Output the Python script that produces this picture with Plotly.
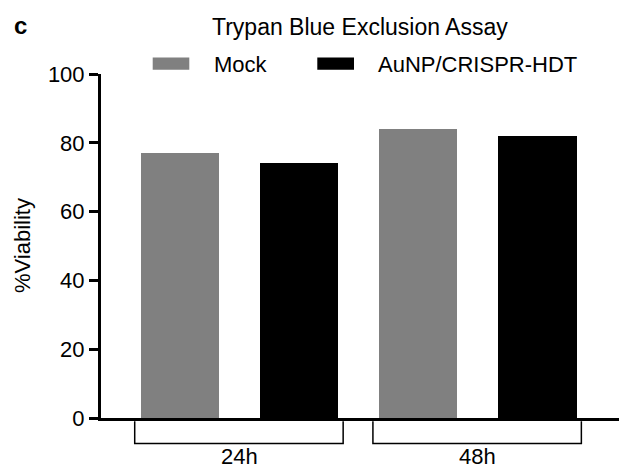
import plotly.graph_objects as go

# ---- data ----
timepoints = ["24h", "48h"]
series_names = ["Mock", "AuNP/CRISPR-HDT"]
mock_values = [77, 84]
hdt_values = [74, 82]
y_ticks = [0, 20, 40, 60, 80, 100]
title_text = "Trypan Blue Exclusion Assay"
y_title = "%Viability"
panel_label = "c"

colors = ["#808080", "#000000"]
FONT = "Liberation Sans, Arial, sans-serif"

W, H = 619, 472
L, R, T, B = 101, 0, 73.5, 53.5
PW, PH = W - L - R, H - T - B


def px(x):
    return (x - L) / PW


def py(y):
    return (H - B - y) / PH


# bar positions: two bars per timepoint
mock_x = [2 * i for i in range(len(timepoints))]
hdt_x = [2 * i + 1 for i in range(len(timepoints))]

fig = go.Figure()
fig.add_bar(x=mock_x, y=mock_values, name=series_names[0], width=0.66,
            marker=dict(color=colors[0], line=dict(width=0)), showlegend=False)
fig.add_bar(x=hdt_x, y=hdt_values, name=series_names[1], width=0.66,
            marker=dict(color=colors[1], line=dict(width=0)), showlegend=False)

shapes = []
annotations = []

# group brackets + labels
for i, tp in enumerate(timepoints):
    x0 = 2 * i - 0.38
    x1 = 2 * i + 1.37
    yt, yb = py(421.7), py(444)
    shapes.append(dict(type="path", xref="x", yref="paper",
                       path=f"M {x0},{yt} L {x0},{yb} L {x1},{yb} L {x1},{yt}",
                       line=dict(color="black", width=1.5)))
    annotations.append(dict(x=2 * i + 0.5, y=py(457.5), xref="x", yref="paper",
                            text=tp, showarrow=False, xanchor="center", yanchor="middle",
                            font=dict(size=22, color="black", family=FONT)))

# manual legend
legend_items = [(152.7, 189.3, 211.7), (317.3, 354.0, 375.7)]
for (sx0, sx1, tx), name, c in zip(legend_items, series_names, colors):
    shapes.append(dict(type="rect", xref="paper", yref="paper",
                       x0=px(sx0), x1=px(sx1), y0=py(69.3), y1=py(57.0),
                       fillcolor=c, line=dict(width=0)))
    annotations.append(dict(x=px(tx), y=py(64), xref="paper", yref="paper",
                            text=name, showarrow=False, xanchor="left", yanchor="middle",
                            font=dict(size=22, color="black", family=FONT)))

# title
annotations.append(dict(x=px(359.5), y=py(26.5), xref="paper", yref="paper",
                        text=title_text, showarrow=False, xanchor="center", yanchor="middle",
                        font=dict(size=23, color="black", family=FONT)))
# panel label
annotations.append(dict(x=px(20), y=py(25), xref="paper", yref="paper",
                        text=f"<b>{panel_label}</b>", showarrow=False, xanchor="center",
                        yanchor="middle", font=dict(size=24, color="black", family=FONT)))
# y axis title
annotations.append(dict(x=px(22), y=0.5, xref="paper", yref="paper",
                        text=y_title, showarrow=False, textangle=-90,
                        xanchor="center", yanchor="middle",
                        font=dict(size=22, color="black", family=FONT)))

fig.update_layout(
    width=W, height=H,
    margin=dict(l=L, r=R, t=T, b=B, pad=0),
    paper_bgcolor="white", plot_bgcolor="white",
    font=dict(family=FONT, color="black", size=22),
    bargap=0,
    shapes=shapes,
    annotations=annotations,
    xaxis=dict(range=[-0.663, 3.686], showline=True, linecolor="black", linewidth=3,
               showticklabels=False, ticks="", showgrid=False, zeroline=False),
    yaxis=dict(range=[0, 100], tickvals=y_ticks, showline=True, linecolor="black",
               linewidth=3, ticks="outside", ticklen=9, tickwidth=3, tickcolor="black",
               showgrid=False, zeroline=False,
               tickfont=dict(size=22, color="black", family=FONT)),
)

fig.write_html("out.html",
               config={"displayModeBar": False},
               post_script="document.body.style.margin='0px';document.body.style.overflow='hidden';")
